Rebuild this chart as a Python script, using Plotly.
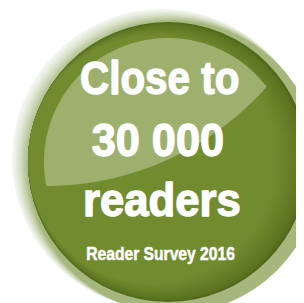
import json
import numpy as np
import plotly.graph_objects as go

# ---- content (text of the badge) ----
headline_lines = ["Close to", "30 000", "readers"]
headline_x = [151, 150, 154]
headline_y = [69, 131, 191]
headline_sizes = [47, 47, 47]
headline_squash = [0.86, 0.92, 0.93]
subtitle = "Reader Survey 2016"
subtitle_x = 152
subtitle_y = 246
subtitle_size = 18
subtitle_squash = 0.87

W, H = 304, 303
FONT = "Liberation Sans, Arial, Helvetica, sans-serif"

def lerp_color(c0, c1, t):
    a = np.array([int(c0[i:i + 2], 16) for i in (1, 3, 5)], float)
    b = np.array([int(c1[i:i + 2], 16) for i in (1, 3, 5)], float)
    c = a + (b - a) * t
    return "rgb(%d,%d,%d)" % tuple(np.round(c))

def circle(cx, cy, r, color):
    return dict(type="circle", xref="x", yref="y", x0=cx - r, x1=cx + r,
                y0=cy - r, y1=cy + r, fillcolor=color, line=dict(width=0),
                layer="below")

shapes = []

# outer bevel ring: light at upper-left, green at lower-right
N = 16
for i in range(N + 1):
    t = i / N
    cx = 154 + 12 * t
    cy = 151 + 8 * t
    r = 150 - 4 * t
    shapes.append(circle(cx, cy, r, lerp_color("#f3f5ef", "#a5b77c", t ** 1.3)))

# main disc with darker right edge
DCX, DCY, DR = 160, 154, 140
M = 14
for i in range(M + 1):
    t = i / M
    s = 16 * t
    cx = DCX - s
    cy = DCY - 0.15 * s
    r = DR - s
    shapes.append(circle(cx, cy, r, lerp_color("#4f691a", "#718b2f", t ** 0.6)))

# highlight lens = intersection of two circles
C1 = (160.0, 154.0, 124.0)
C2 = (38.0, -117.0, 295.0)
pts = []
th = np.linspace(0, 2 * np.pi, 1440, endpoint=False)
for (ax, ay, ar), (bx, by, br) in ((C1, C2), (C2, C1)):
    px = ax + ar * np.cos(th)
    py = ay + ar * np.sin(th)
    inside = (px - bx) ** 2 + (py - by) ** 2 <= br ** 2
    pts += list(zip(px[inside], py[inside]))
pts = np.array(pts)
cen = pts.mean(axis=0)
order = np.argsort(np.arctan2(pts[:, 1] - cen[1], pts[:, 0] - cen[0]))
pts = pts[order]
path = "M " + " L ".join("%.2f,%.2f" % (x, y) for x, y in pts) + " Z"
shapes.append(dict(type="path", xref="x", yref="y", path=path,
                   fillcolor="#9db06d", line=dict(width=0), layer="below"))

fig = go.Figure()
fig.add_trace(go.Scatter(x=[0, W], y=[0, H], mode="markers",
                         marker=dict(opacity=0), hoverinfo="skip",
                         showlegend=False))

annotations = []
for txt, x, y, s in zip(headline_lines, headline_x, headline_y, headline_sizes):
    annotations.append(dict(x=x, y=y, xref="x", yref="y", text="<b>%s</b>" % txt,
                            showarrow=False, xanchor="center", yanchor="middle",
                            font=dict(family=FONT, size=s, color="white")))
annotations.append(dict(x=subtitle_x, y=subtitle_y, xref="x", yref="y",
                        text="<b>%s</b>" % subtitle, showarrow=False,
                        xanchor="center", yanchor="middle",
                        font=dict(family=FONT, size=subtitle_size, color="white")))

fig.update_layout(
    width=W, height=H, autosize=False,
    margin=dict(l=0, r=0, t=0, b=0),
    paper_bgcolor="white", plot_bgcolor="white",
    xaxis=dict(range=[0, W], visible=False, fixedrange=True),
    yaxis=dict(range=[H, 0], visible=False, fixedrange=True),
    shapes=shapes, annotations=annotations, showlegend=False,
)

# condensed, heavy look: squash each text line horizontally around its centre
squash = headline_squash + [subtitle_squash]
strokes = [1.4, 1.4, 1.4, 0.5]
post = """
var gd = document.getElementById('{plot_id}');
var sq = %s, sw = %s;
function squash() {
  sq.forEach(function(s, i) {
    var t = gd.querySelector('g.annotation[data-index="' + i + '"] text');
    if (t) {
      t.style.transformBox = 'fill-box';
      t.style.transformOrigin = 'center';
      t.style.transform = 'scaleX(' + s + ')';
      t.style.stroke = 'white';
      t.style.strokeWidth = sw[i] + 'px';
      t.style.strokeLinejoin = 'round';
    }
  });
}
squash();
gd.on && gd.on('plotly_afterplot', squash);
""" % (json.dumps(squash), json.dumps(strokes))

fig.write_html("out.html", config={"displayModeBar": False}, post_script=post)
